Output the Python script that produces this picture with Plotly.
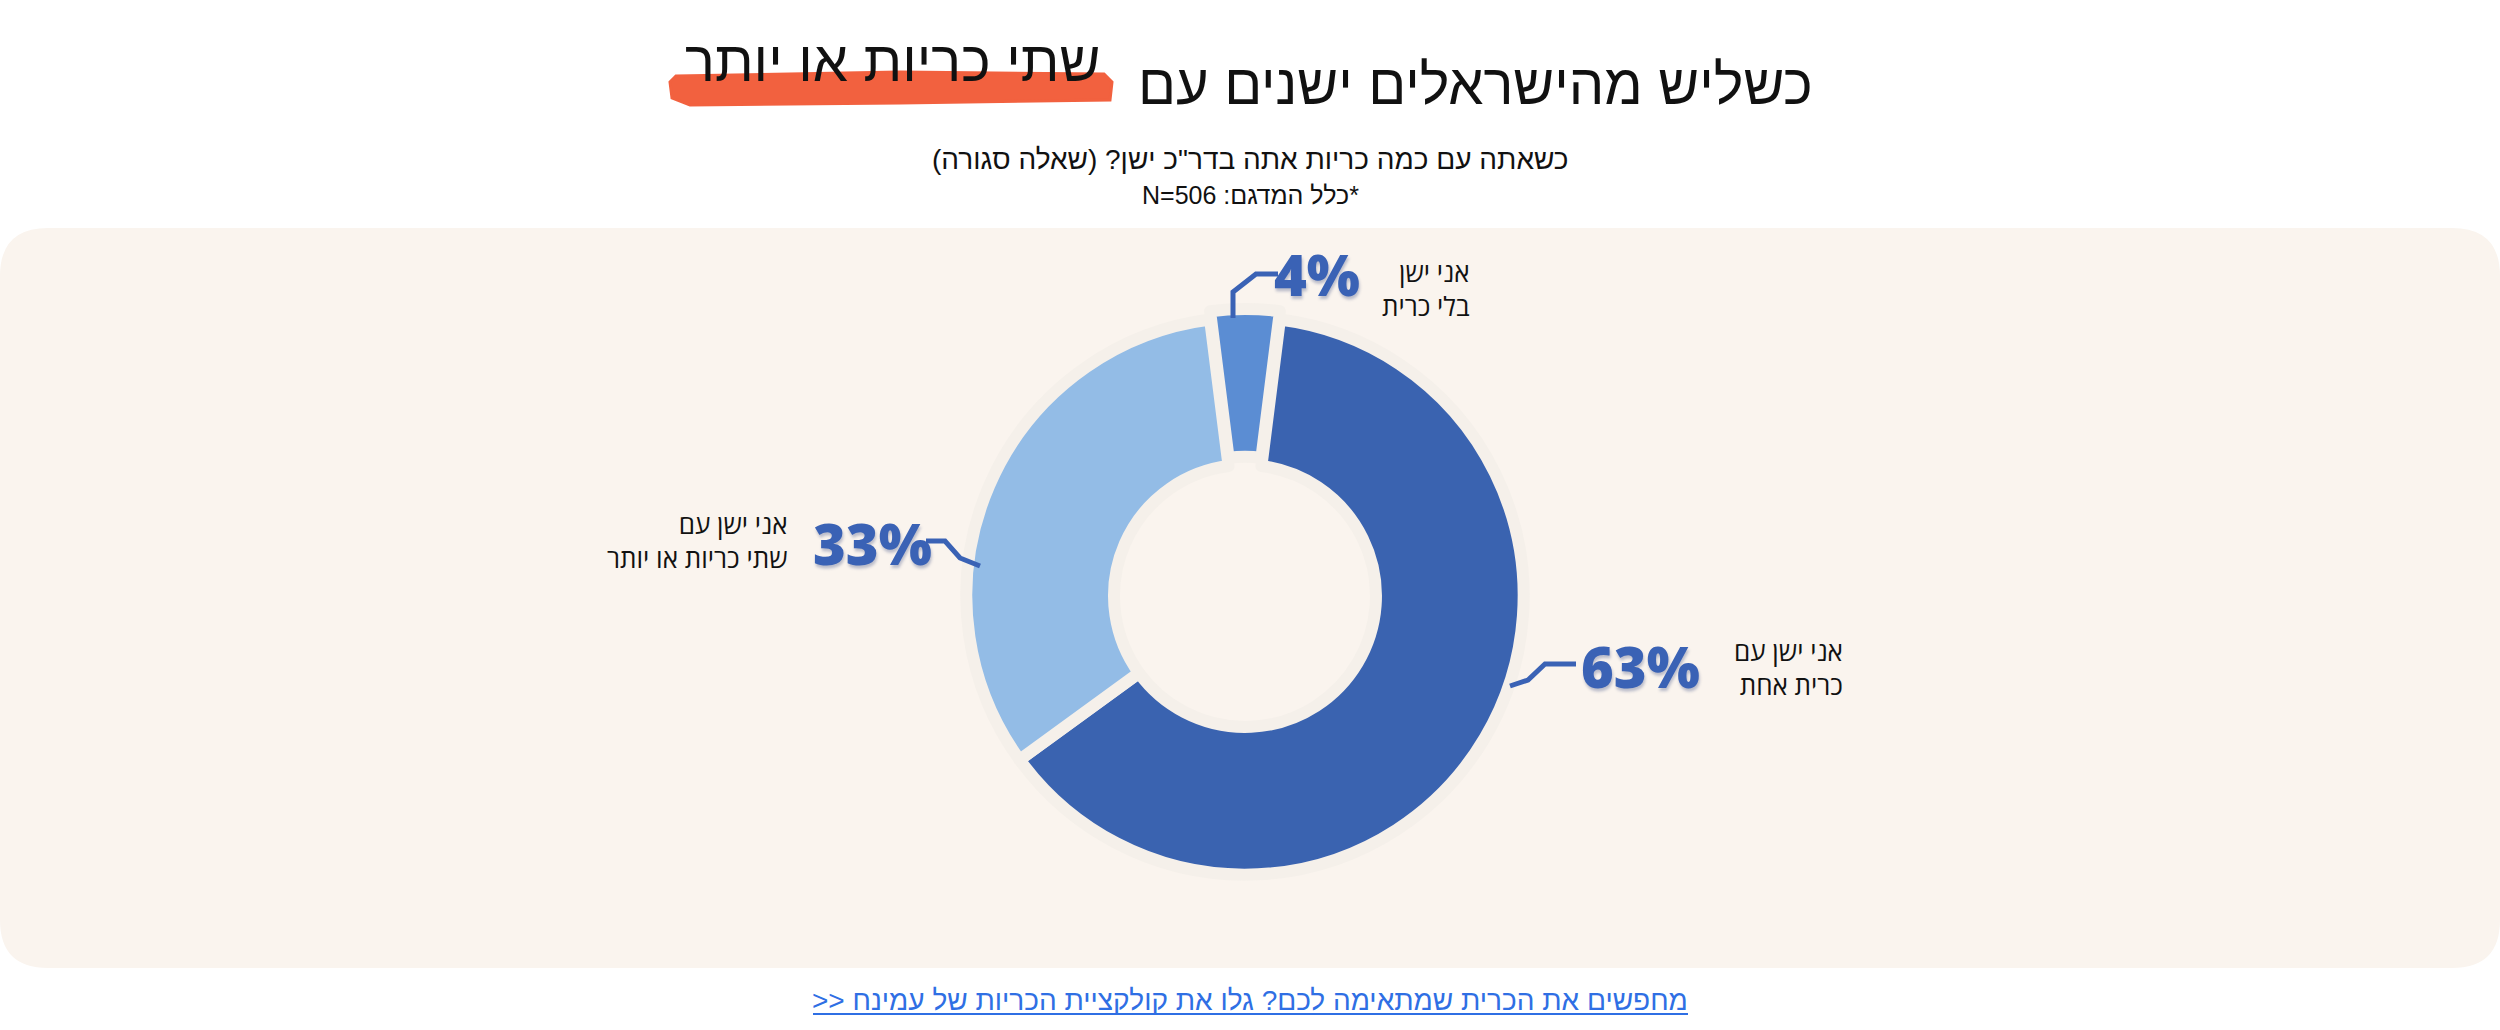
"""
Donut chart: how many pillows Israelis sleep with (closed question, N=506).
"""

import plotly.graph_objects as go

W, H = 2500, 1030

# data
labels = ['כרית אחת', 'שתי כריות או יותר', 'בלי כרית']
values = [63, 33, 4]
pct_text = ['63%', '33%', '4%']
desc_text = ['אני ישן עם<br>כרית אחת', 'אני ישן עם<br>שתי כריות או יותר', 'אני ישן<br>בלי כרית']
colors = ['#3A63B0', '#93BCE6', '#5B8DD3']

title_main = 'כשליש מהישראלים ישנים עם'
title_mark = 'שתי כריות או יותר'
subtitle = 'כשאתה עם כמה כריות אתה בדר"כ ישן? (שאלה סגורה)'
sample_note = '*כלל המדגם: N=506'
footer = 'מחפשים את הכרית שמתאימה לכם? גלו את קולקציית הכריות של עמינח <<'

RLE, PDF = '\u202b', '\u202c'
LABEL_BLUE = '#3A62B5'
FONT = 'Open Sans'
TITLE_FONT = 'Liberation Sans'


def px(x):
    return x / W


def py(y):
    return 1 - y / H


def rtl(s):
    return RLE + s + PDF


def rounded_rect(x0, y0, x1, y1, r):
    """SVG path of a rounded rectangle in paper coordinates (input in pixels)."""
    rx, ry = r / W, r / H
    a, b, c, d = px(x0), py(y1), px(x1), py(y0)
    return (f'M{a + rx},{b} L{c - rx},{b} Q{c},{b} {c},{b + ry} '
            f'L{c},{d - ry} Q{c},{d} {c - rx},{d} L{a + rx},{d} '
            f'Q{a},{d} {a},{d - ry} L{a},{b + ry} Q{a},{b} {a + rx},{b} Z')


def path_px(points):
    return 'M' + ' L'.join(f'{px(x)},{py(y)}' for x, y in points)


cx, cy, r = 1245, 596, 287

fig = go.Figure(go.Pie(
    labels=labels,
    values=values,
    hole=0.47,
    sort=False,
    direction='clockwise',
    rotation=7.2,
    pull=[0, 0, 0.03],
    marker=dict(colors=colors, line=dict(color='#F5F0EA', width=12)),
    textinfo='none',
    hoverinfo='label+percent',
    showlegend=False,
    domain=dict(x=[px(cx - r), px(cx + r)], y=[py(cy + r), py(cy - r)]),
))

shapes = [
    # beige panel
    dict(type='path', xref='paper', yref='paper', path=rounded_rect(0, 228, W, 968, 48),
         fillcolor='#FAF4EE', line=dict(width=0), layer='below'),
    # orange brush highlight under the title
    dict(type='path', xref='paper', yref='paper',
         path=path_px([(676, 76), (900, 72), (1104, 74), (1112, 82), (1110, 100),
                       (900, 103), (690, 105), (672, 98), (670, 82)]) + ' Z',
         fillcolor='#F2613F', line=dict(color='#F2613F', width=3), layer='below'),
    # footer underline
    dict(type='line', xref='paper', yref='paper', x0=px(813), x1=px(1688), y0=py(1014), y1=py(1014),
         line=dict(color='#2F6FE4', width=2)),
]

# leader lines
leaders = [
    [(1510, 686), (1528, 680), (1545, 664), (1576, 664)],
    [(980, 566), (960, 558), (945, 541), (926, 541)],
    [(1233, 318), (1233, 292), (1256, 274), (1278, 274)],
]
for pts in leaders:
    shapes.append(dict(type='path', xref='paper', yref='paper', path=path_px(pts),
                       line=dict(color=LABEL_BLUE, width=5)))

annotations = [
    dict(text=title_main, x=px(1815), y=py(84), xanchor='right', yanchor='middle',
         font=dict(family=TITLE_FONT, size=56, color='#111111')),
    dict(text=title_mark, x=px(1102), y=py(62), xanchor='right', yanchor='middle',
         font=dict(family=TITLE_FONT, size=56, color='#111111')),
    dict(text=rtl(subtitle), x=0.5, y=py(159), xanchor='center', yanchor='middle',
         font=dict(family=TITLE_FONT, size=28, color='#111111')),
    dict(text=rtl(sample_note), x=0.5, y=py(195), xanchor='center', yanchor='middle',
         font=dict(family=TITLE_FONT, size=25, color='#111111')),
    dict(text=rtl(footer), x=px(1250), y=py(1000), xanchor='center', yanchor='middle',
         font=dict(family=TITLE_FONT, size=28, color='#2F6FE4')),
]

pct_pos = [(1640, 666), (872, 543), (1317, 274)]
desc_pos = [(1845, 668), (790, 541), (1472, 289)]
for i in range(len(values)):
    annotations.append(dict(
        text=pct_text[i], x=px(pct_pos[i][0]), y=py(pct_pos[i][1]),
        xanchor='center', yanchor='middle',
        font=dict(family=FONT, size=56, weight=800, color=LABEL_BLUE,
                  shadow='1px 3px 3px rgba(40,60,120,0.30)'),
    ))
    annotations.append(dict(
        text=desc_text[i], x=px(desc_pos[i][0]), y=py(desc_pos[i][1]),
        xanchor='right', yanchor='middle', align='right',
        font=dict(family=FONT, size=26, color='#111111'),
    ))

for a in annotations:
    a.update(xref='paper', yref='paper', showarrow=False)

fig.update_layout(
    width=W, height=H,
    margin=dict(l=0, r=0, t=0, b=0),
    paper_bgcolor='white',
    plot_bgcolor='white',
    shapes=shapes,
    annotations=annotations,
)

# the page body has a default margin; drop it so the figure sits at the window edge
fig.write_html("out.html", config={'displayModeBar': False},
               post_script="document.body.style.margin='0';")
